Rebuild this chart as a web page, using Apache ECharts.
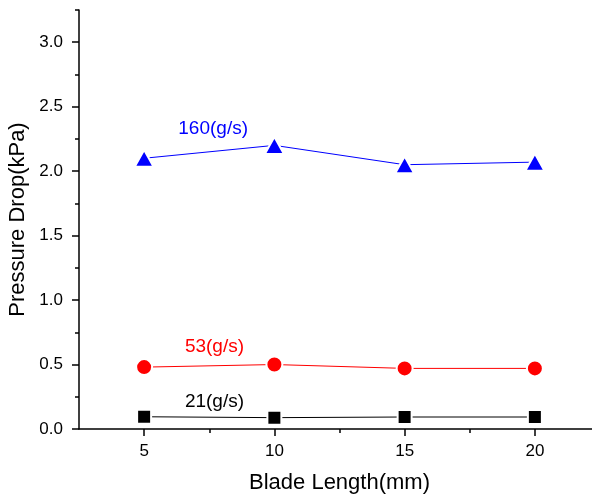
<!DOCTYPE html>
<html>
<head>
<meta charset="utf-8">
<script src="https://cdn.jsdelivr.net/npm/echarts@6/dist/echarts.min.js"></script>
<style>
  html, body { margin: 0; padding: 0; background: #fff; }
  #chart { width: 592px; height: 498px; }
</style>
</head>
<body>
<div id="chart"></div>
<script>
// Blade length (mm) on the x axis
const bladeLength = [5, 10, 15, 20];

// Pressure drop (kPa) for each mass flow rate
const drop21 = [0.095, 0.088, 0.093, 0.093];
const drop53 = [0.48, 0.50, 0.47, 0.47];
const drop160 = [2.10, 2.20, 2.05, 2.07];

// Series captions and where they sit, in data units
const seriesNames = ['21(g/s)', '53(g/s)', '160(g/s)'];
const captionAnchor = [[7.7, 0.21], [7.7, 0.64], [7.65, 2.33]];

const xMajor = [5, 10, 15, 20];
const xMinor = [7.5, 12.5, 17.5];
const yMajor = [0, 0.5, 1.0, 1.5, 2.0, 2.5, 3.0];
const yMinor = [0.25, 0.75, 1.25, 1.75, 2.25, 2.75, 3.25];

const FONT = 'Liberation Sans, Arial, sans-serif';
const colors = ['#000000', '#ff0000', '#0000ff'];
const symbols = ['rect', 'circle', 'triangle'];
const symbolSizes = [14, 16, [19, 17]];
const values = [drop21, drop53, drop160];

const chart = echarts.init(document.getElementById('chart'), null, { renderer: 'canvas' });

const baseX = { type: 'value', min: 2.5, max: 22.5, splitLine: { show: false } };
const baseY = { type: 'value', min: 0, max: 3.25, splitLine: { show: false } };

const option = {
  animation: false,
  backgroundColor: '#fff',
  // the x axis runs a little past the right edge of the canvas
  grid: { left: 79, right: -8, top: 10, bottom: 69, outerBoundsMode: 'none', containLabel: false },
  xAxis: [
    Object.assign({}, baseX, {
      name: 'Blade Length(mm)',
      nameLocation: 'middle',
      nameGap: 43,
      nameTextStyle: { fontFamily: FONT, fontSize: 22, color: '#000' },
      axisLine: { show: true, lineStyle: { color: '#000', width: 1.5 } },
      axisTick: { show: true, inside: false, length: 7, customValues: xMajor, lineStyle: { color: '#000', width: 1.5 } },
      axisLabel: { customValues: xMajor, fontFamily: FONT, fontSize: 17, color: '#000', margin: 14 }
    }),
    Object.assign({}, baseX, {
      position: 'bottom',
      axisLine: { show: false },
      axisTick: { show: true, inside: false, length: 4, customValues: xMinor, lineStyle: { color: '#000', width: 1.5 } },
      axisLabel: { show: false }
    })
  ],
  yAxis: [
    Object.assign({}, baseY, {
      name: 'Pressure Drop(kPa)',
      nameLocation: 'middle',
      nameGap: 47,
      nameTextStyle: { fontFamily: FONT, fontSize: 22, color: '#000' },
      axisLine: { show: true, lineStyle: { color: '#000', width: 1.5 } },
      axisTick: { show: true, inside: false, length: 7, customValues: yMajor, lineStyle: { color: '#000', width: 1.5 } },
      axisLabel: { customValues: yMajor, fontFamily: FONT, fontSize: 17, color: '#000', margin: 16,
        formatter: v => v.toFixed(1) }
    }),
    Object.assign({}, baseY, {
      position: 'left',
      axisLine: { show: false },
      axisTick: { show: true, inside: false, length: 4, customValues: yMinor, lineStyle: { color: '#000', width: 1.5 } },
      axisLabel: { show: false }
    })
  ],
  series: values.map((vals, i) => ({
    type: 'line',
    name: seriesNames[i],
    xAxisIndex: 0,
    yAxisIndex: 0,
    data: bladeLength.map((x, j) => [x, vals[j]]),
    symbol: symbols[i],
    symbolSize: symbolSizes[i],
    showAllSymbol: true,
    lineStyle: { color: colors[i], width: 1 },
    itemStyle: { color: colors[i], borderColor: '#fff', borderWidth: 2 },
    z: 3
  }))
};

chart.setOption(option);

// Series captions placed through the axis scales
chart.setOption({
  graphic: seriesNames.map((name, i) => {
    const p = chart.convertToPixel({ xAxisIndex: 0, yAxisIndex: 0 }, captionAnchor[i]);
    return {
      type: 'text',
      x: p[0],
      y: p[1],
      style: {
        text: name,
        fill: colors[i],
        font: '19px ' + FONT,
        textAlign: 'center',
        textVerticalAlign: 'middle'
      }
    };
  })
});
</script>
</body>
</html>
